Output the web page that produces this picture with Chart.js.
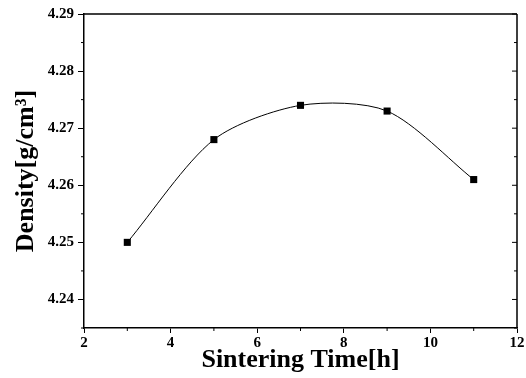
<!DOCTYPE html>
<html>
<head>
<meta charset="utf-8">
<script src="https://cdn.jsdelivr.net/npm/chart.js@4/dist/chart.umd.min.js"></script>
<style>
html,body{margin:0;padding:0;background:#fff;}
#wrap{width:526px;height:378px;}
</style>
</head>
<body>
<div id="wrap"><canvas id="c" width="526" height="378"></canvas></div>
<script>
const sinteringTime = [3, 5, 7, 9, 11];
const density = [4.250, 4.268, 4.274, 4.273, 4.261];
const xTicks = [2, 4, 6, 8, 10, 12];
const yTicks = [4.24, 4.25, 4.26, 4.27, 4.28, 4.29];
const xMinor = [3, 5, 7, 9, 11];
const yMinor = [4.235, 4.245, 4.255, 4.265, 4.275, 4.285];

const serif = "'Liberation Serif', 'Times New Roman', serif";

const framePlugin = {
  id: 'frame',
  afterDraw(chart) {
    const {ctx, chartArea: a, scales} = chart;
    ctx.save();
    ctx.strokeStyle = '#000';
    ctx.lineWidth = 1.5;
    ctx.beginPath();
    ctx.moveTo(a.left, a.top); ctx.lineTo(a.right, a.top);
    ctx.moveTo(a.right, a.top); ctx.lineTo(a.right, a.bottom);
    ctx.stroke();
    ctx.lineWidth = 1;
    ctx.beginPath();
    yMinor.forEach(v => {
      const y = scales.y.getPixelForValue(v);
      if (y < a.top || y > a.bottom) return;
      ctx.moveTo(a.left, y); ctx.lineTo(a.left - 3, y);
      ctx.moveTo(a.right, y); ctx.lineTo(a.right - 3, y);
    });
    yTicks.forEach(v => {
      const y = scales.y.getPixelForValue(v);
      ctx.moveTo(a.right, y); ctx.lineTo(a.right - 5, y);
    });
    xMinor.forEach(v => {
      const x = scales.x.getPixelForValue(v);
      ctx.moveTo(x, a.bottom); ctx.lineTo(x, a.bottom + 3);
    });
    ctx.stroke();
    ctx.restore();
  }
};

new Chart(document.getElementById('c'), {
  type: 'line',
  data: {
    datasets: [{
      data: sinteringTime.map((t, i) => ({x: t, y: density[i]})),
      borderColor: '#000',
      backgroundColor: '#000',
      borderWidth: 1,
      tension: 0.28,
      pointStyle: 'rect',
      pointRadius: 5,
      pointBorderWidth: 0,
      fill: false
    }]
  },
  options: {
    responsive: false,
    animation: false,
    devicePixelRatio: 1,
    layout: {padding: {top: 14, right: 9, left: 0, bottom: 0}},
    plugins: {legend: {display: false}, tooltip: {enabled: false}},
    scales: {
      x: {
        type: 'linear',
        min: 2, max: 12,
        afterBuildTicks: s => { s.ticks = xTicks.map(v => ({value: v})); },
        afterFit: s => { s.height = 50; },
        grid: {display: true, drawOnChartArea: false, drawTicks: true, tickLength: 5, color: '#000', lineWidth: 1},
        border: {display: true, color: '#000', width: 1.5},
        ticks: {color: '#000', padding: 1, maxRotation: 0, font: {family: serif, size: 15, weight: 'bold'}},
        title: {display: true, text: 'Sintering Time[h]', color: '#000', padding: {top: 0, bottom: 2},
                font: {family: serif, size: 26, weight: 'bold'}}
      },
      y: {
        type: 'linear',
        min: 4.235, max: 4.29,
        afterBuildTicks: s => { s.ticks = yTicks.map(v => ({value: v})); },
        afterFit: s => { s.width = 84; },
        grid: {display: true, drawOnChartArea: false, drawTicks: true, tickLength: 6, color: '#000', lineWidth: 1},
        border: {display: true, color: '#000', width: 1.5},
        ticks: {color: '#000', padding: 4, callback: v => v.toFixed(2), font: {family: serif, size: 15, weight: 'bold'}},
        title: {display: true, text: 'Density[g/cm³]', color: '#000', padding: {top: 11, bottom: 0},
                font: {family: serif, size: 26, weight: 'bold'}}
      }
    }
  },
  plugins: [framePlugin]
});
</script>
</body>
</html>
